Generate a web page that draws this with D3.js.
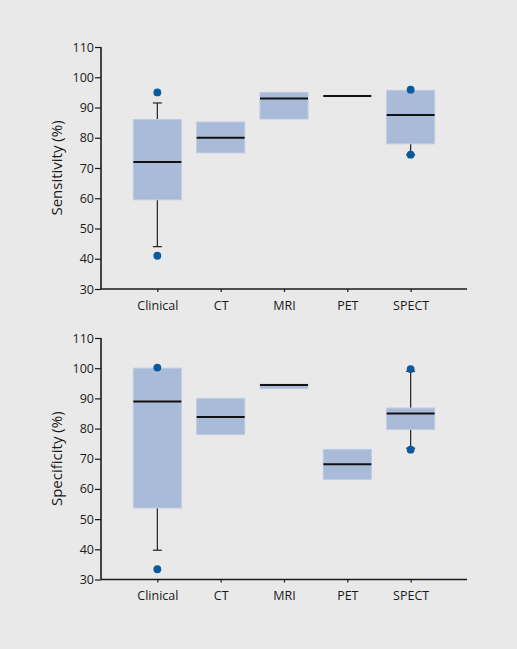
<!DOCTYPE html>
<html><head><meta charset="utf-8">
<script src="https://cdn.jsdelivr.net/npm/d3@7/dist/d3.min.js"></script>
<style>
html,body{margin:0;padding:0;background:#e9e9e9;}
svg{display:block;}
text{font-family:"Open Sans",sans-serif;fill:#1a1a1a;}
</style></head>
<body>
<script>
const categories = ["Clinical","CT","MRI","PET","SPECT"];
const yTicks = [30,40,50,60,70,80,90,100,110];

// Sensitivity (%)
const sensQ1  = [59.5, 75.0, 86.2, 93.8, 78.0];
const sensMed = [72.0, 80.0, 93.0, 93.8, 87.5];
const sensQ3  = [86.0, 85.2, 95.0, 93.8, 95.7];
const sensLo  = [44.0, null, null, null, 74.4];
const sensHi  = [91.5, null, null, null, null];
const sensOut = [[95.0, 41.0], [], [], [], [95.9, 74.4]];

// Specificity (%)
const specQ1  = [53.7, 78.0, 93.2, 63.2, 79.7];
const specMed = [89.0, 83.8, 94.4, 68.2, 85.0];
const specQ3  = [100.0, 90.0, 94.7, 73.1, 86.8];
const specLo  = [39.7, null, null, null, 73.5];
const specHi  = [null, null, null, null, 99.0];
const specOut = [[100.2, 33.4], [], [], [], [99.7, 73.0]];

const W = 517, H = 649;
const svg = d3.select("body").append("svg").attr("width", W).attr("height", H);
svg.append("rect").attr("width", W).attr("height", H).attr("fill", "#e9e9e9");

const x = d3.scalePoint().domain(categories).range([101, 467]).padding(0.89);
const boxW = 48, capW = 9;

function panel(top, bottom, label, q1, med, q3, lo, hi, out) {
  const y = d3.scaleLinear().domain([30, 110]).range([bottom, top]);
  const g = svg.append("g");

  categories.forEach((c, i) => {
    const cx = x(c);
    if (lo[i] != null) {
      g.append("line").attr("x1", cx).attr("x2", cx).attr("y1", y(q1[i])).attr("y2", y(lo[i]))
        .attr("stroke", "#222").attr("stroke-width", 1.2);
      g.append("line").attr("x1", cx - capW/2).attr("x2", cx + capW/2).attr("y1", y(lo[i])).attr("y2", y(lo[i]))
        .attr("stroke", "#222").attr("stroke-width", 1.2);
    }
    if (hi[i] != null) {
      g.append("line").attr("x1", cx).attr("x2", cx).attr("y1", y(q3[i])).attr("y2", y(hi[i]))
        .attr("stroke", "#222").attr("stroke-width", 1.2);
      g.append("line").attr("x1", cx - capW/2).attr("x2", cx + capW/2).attr("y1", y(hi[i])).attr("y2", y(hi[i]))
        .attr("stroke", "#222").attr("stroke-width", 1.2);
    }
    const h = y(q1[i]) - y(q3[i]);
    if (h > 0.5) {
      g.append("rect").attr("x", cx - boxW/2).attr("y", y(q3[i])).attr("width", boxW).attr("height", h)
        .attr("fill", "#aabbd9").attr("stroke", "#bccae2").attr("stroke-width", 1);
    }
    g.append("line").attr("x1", cx - boxW/2).attr("x2", cx + boxW/2).attr("y1", y(med[i])).attr("y2", y(med[i]))
      .attr("stroke", "#111").attr("stroke-width", 2);
    out[i].forEach(v => {
      g.append("circle").attr("cx", cx).attr("cy", y(v)).attr("r", 3.9).attr("fill", "#0b5a9e");
    });
  });

  const ya = g.append("g").attr("transform", "translate(101,0)")
    .call(d3.axisLeft(y).tickValues(yTicks).tickSize(6).tickPadding(1).tickSizeOuter(0));
  const xa = g.append("g").attr("transform", `translate(0,${bottom})`)
    .call(d3.axisBottom(x).tickSize(3).tickPadding(9).tickSizeOuter(0));
  [ya, xa].forEach(a => {
    a.select(".domain").attr("stroke", "#1a1a1a").attr("stroke-width", 1.6);
    a.selectAll(".tick line").attr("stroke", "#1a1a1a").attr("stroke-width", 1.2);
    a.selectAll("text").style("font-family", '"Open Sans",sans-serif').style("font-size", "12.5px").attr("fill", "#1a1a1a");
  });
  ya.select(".domain").attr("d", `M0,${bottom}V${top}`);
  xa.select(".domain").attr("d", `M101,0H467`);

  g.append("text").attr("transform", `translate(61.5,${(top + bottom) / 2}) rotate(-90)`)
    .attr("text-anchor", "middle").style("font-size", "15px").text(label);
}

panel(47, 289, "Sensitivity (%)", sensQ1, sensMed, sensQ3, sensLo, sensHi, sensOut);
panel(338, 579.5, "Specificity (%)", specQ1, specMed, specQ3, specLo, specHi, specOut);
</script>
</body></html>
